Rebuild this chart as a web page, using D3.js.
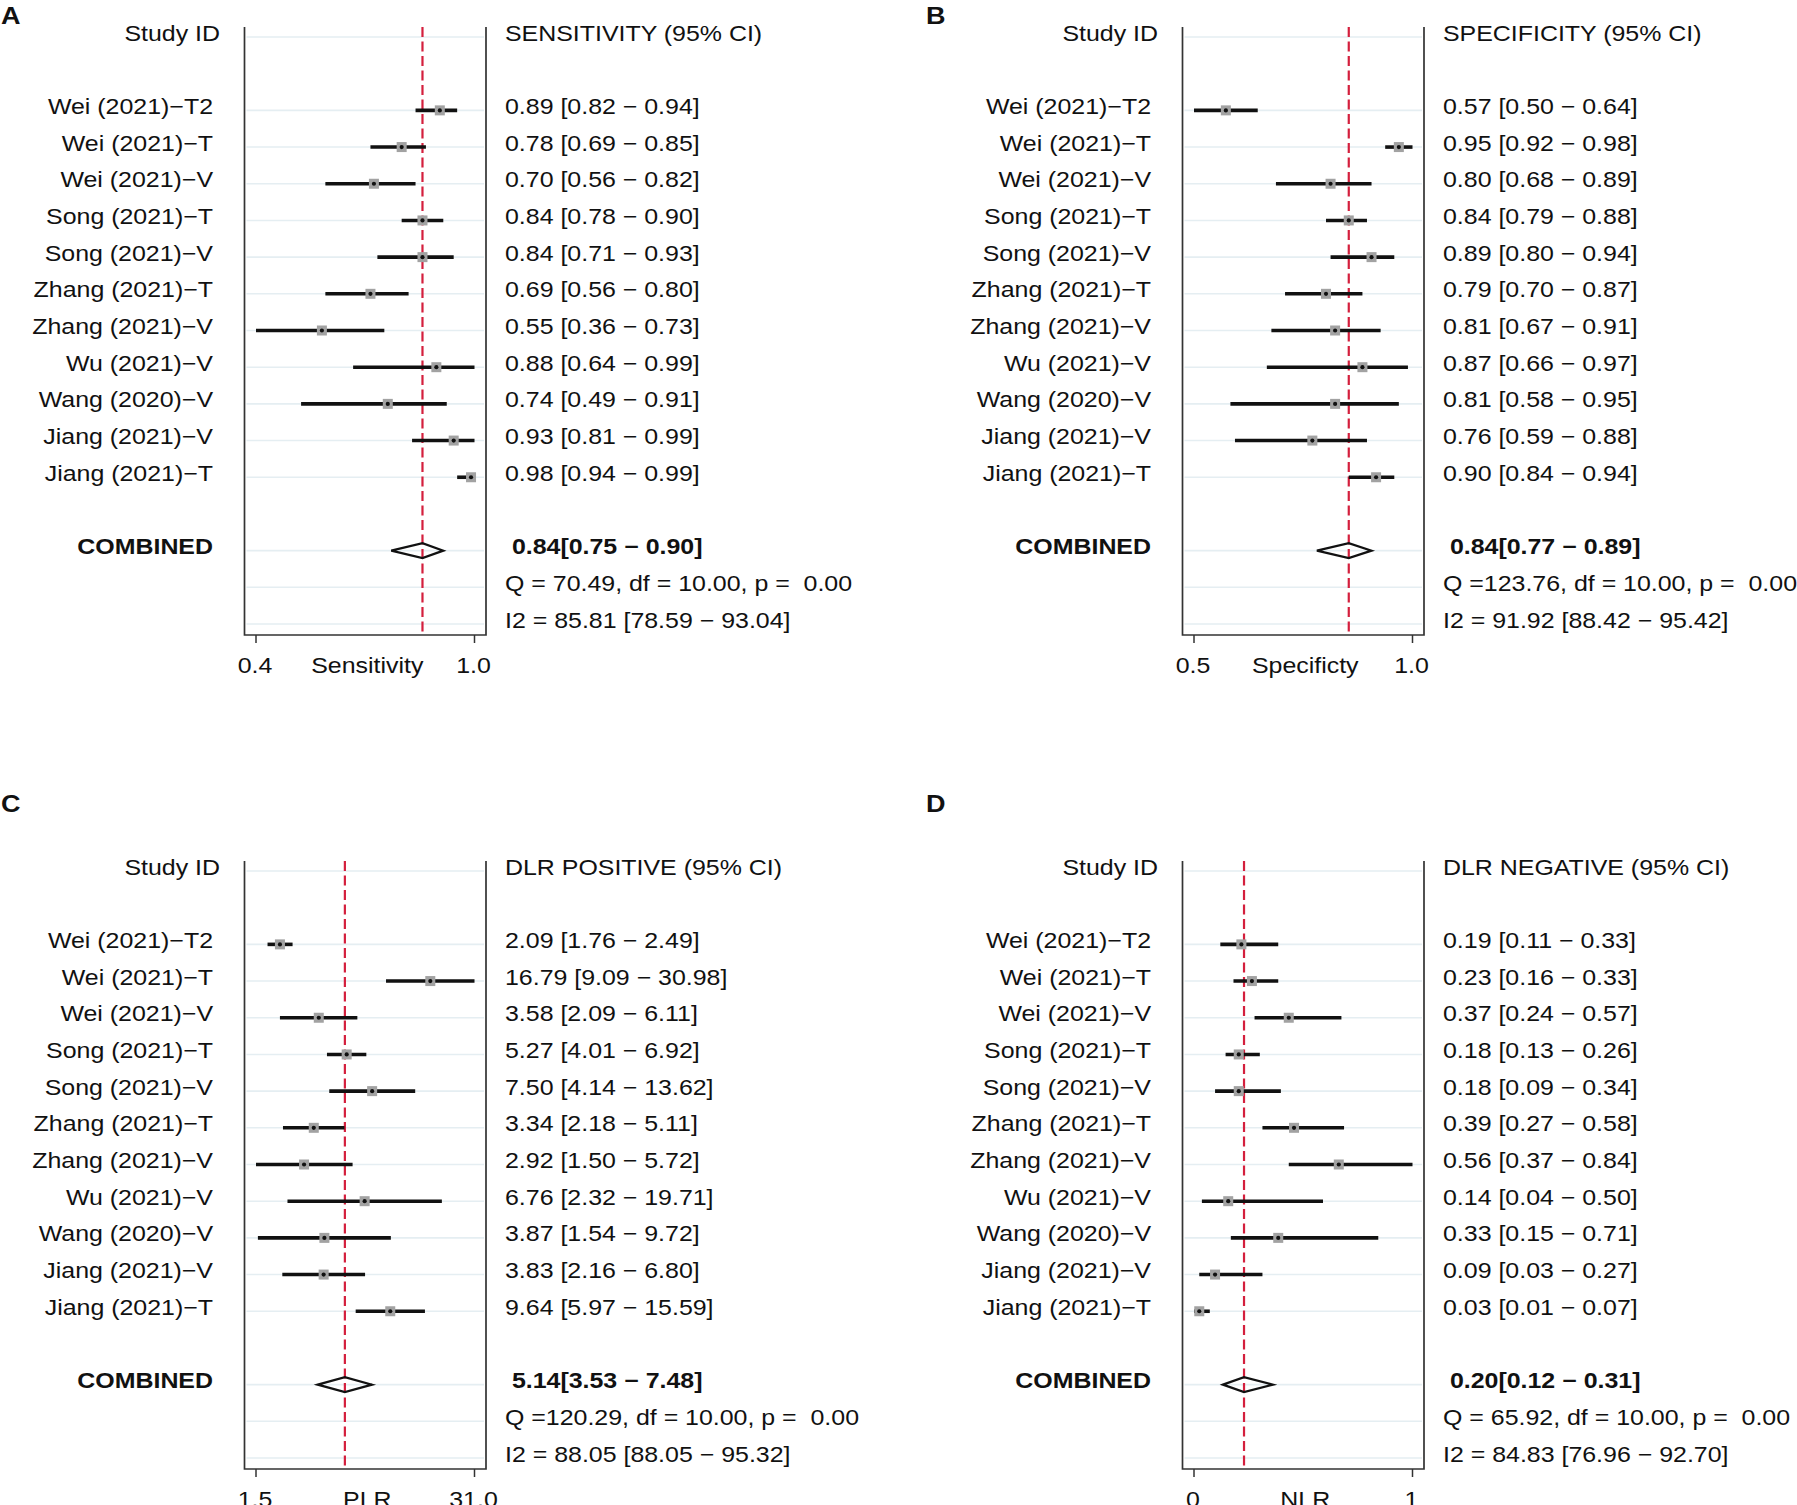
<!DOCTYPE html>
<html>
<head>
<meta charset="utf-8">
<script src="https://cdn.jsdelivr.net/npm/d3@7"></script>
<style>
  body { margin: 0; background: #fff; }
  text { font-family: 'Liberation Sans', Arial, sans-serif; fill: #111; white-space: pre; }
</style>
</head>
<body>
<div id="chart"></div>
<script>
// study labels (same order in every panel)
const studies = ['Wei (2021)\u2212T2', 'Wei (2021)\u2212T', 'Wei (2021)\u2212V', 'Song (2021)\u2212T', 'Song (2021)\u2212V',
  'Zhang (2021)\u2212T', 'Zhang (2021)\u2212V', 'Wu (2021)\u2212V', 'Wang (2020)\u2212V', 'Jiang (2021)\u2212V', 'Jiang (2021)\u2212T']

// A - sensitivity
const sensEst = [0.89, 0.78, 0.70, 0.84, 0.84, 0.69, 0.55, 0.88, 0.74, 0.93, 0.98]
const sensLo  = [0.82, 0.69, 0.56, 0.78, 0.71, 0.56, 0.36, 0.64, 0.49, 0.81, 0.94]
const sensHi  = [0.94, 0.85, 0.82, 0.90, 0.93, 0.80, 0.73, 0.99, 0.91, 0.99, 0.99]
const sensPooled = [0.84, 0.75, 0.90]
const sensStats = ['Q = 70.49, df = 10.00, p =  0.00', 'I2 = 85.81 [78.59 \u2212 93.04]']

// B - specificity
const specEst = [0.57, 0.95, 0.80, 0.84, 0.89, 0.79, 0.81, 0.87, 0.81, 0.76, 0.90]
const specLo  = [0.50, 0.92, 0.68, 0.79, 0.80, 0.70, 0.67, 0.66, 0.58, 0.59, 0.84]
const specHi  = [0.64, 0.98, 0.89, 0.88, 0.94, 0.87, 0.91, 0.97, 0.95, 0.88, 0.94]
const specPooled = [0.84, 0.77, 0.89]
const specStats = ['Q =123.76, df = 10.00, p =  0.00', 'I2 = 91.92 [88.42 \u2212 95.42]']

// C - positive likelihood ratio
const plrEst = [2.09, 16.79, 3.58, 5.27, 7.50, 3.34, 2.92, 6.76, 3.87, 3.83, 9.64]
const plrLo  = [1.76, 9.09, 2.09, 4.01, 4.14, 2.18, 1.50, 2.32, 1.54, 2.16, 5.97]
const plrHi  = [2.49, 30.98, 6.11, 6.92, 13.62, 5.11, 5.72, 19.71, 9.72, 6.80, 15.59]
const plrPooled = [5.14, 3.53, 7.48]
const plrStats = ['Q =120.29, df = 10.00, p =  0.00', 'I2 = 88.05 [88.05 \u2212 95.32]']

// D - negative likelihood ratio
const nlrEst = [0.19, 0.23, 0.37, 0.18, 0.18, 0.39, 0.56, 0.14, 0.33, 0.09, 0.03]
const nlrLo  = [0.11, 0.16, 0.24, 0.13, 0.09, 0.27, 0.37, 0.04, 0.15, 0.03, 0.01]
const nlrHi  = [0.33, 0.33, 0.57, 0.26, 0.34, 0.58, 0.84, 0.50, 0.71, 0.27, 0.07]
const nlrPooled = [0.20, 0.12, 0.31]
const nlrStats = ['Q = 65.92, df = 10.00, p =  0.00', 'I2 = 84.83 [76.96 \u2212 92.70]']

const panels = [
  { letter: 'A', header: 'SENSITIVITY (95% CI)', xTitle: 'Sensitivity', est: sensEst, lo: sensLo, hi: sensHi, pooled: sensPooled, stats: sensStats, log: false, fmt: '.1f' },
  { letter: 'B', header: 'SPECIFICITY (95% CI)', xTitle: 'Specificty', est: specEst, lo: specLo, hi: specHi, pooled: specPooled, stats: specStats, log: false, fmt: '.1f' },
  { letter: 'C', header: 'DLR POSITIVE (95% CI)', xTitle: 'PLR', est: plrEst, lo: plrLo, hi: plrHi, pooled: plrPooled, stats: plrStats, log: true, fmt: '.1f' },
  { letter: 'D', header: 'DLR NEGATIVE (95% CI)', xTitle: 'NLR', est: nlrEst, lo: nlrLo, hi: nlrHi, pooled: nlrPooled, stats: nlrStats, log: false, fmt: '.0f' }
]

const width = 1797
const height = 1505
const STRETCH = 1.16

const svg = d3.select('#chart')
  .append('svg')
  .attr('width', width)
  .attr('height', height)

svg.append('rect').attr('width', width).attr('height', height).attr('fill', '#fff')

const offsets = [[0, 0], [938, 0], [0, 834], [938, 834]]
const letterPos = [[1, 24], [926, 24], [1, 812], [926, 812]]

const plotLeft = 244.5
const plotRight = 486
const inset = 11.5
const axisTop = 27
const axisBottom = 635
const labelX = 213
const textX = 505

// rows: 0 header, 2..12 studies, 14 combined, 15 Q, 16 I2
const y = d3.scaleLinear().domain([0, 16]).range([37, 624])

const fmt2 = d3.format('.2f')

function label(g, x, yy, str, anchor, bold, size, stretch) {
  return g.append('text')
    .attr('transform', `translate(${x},${yy}) scale(${stretch || STRETCH},1)`)
    .attr('text-anchor', anchor || 'start')
    .attr('font-size', size || 21.5)
    .attr('font-weight', bold ? 'bold' : 'normal')
    .text(str)
}

panels.forEach((p, pi) => {
  const g = svg.append('g').attr('transform', `translate(${offsets[pi][0]},${offsets[pi][1]})`)
  const lp = letterPos[pi]
  label(svg, lp[0], lp[1], p.letter, 'start', true, 23.5, 1.15)

  const lo = d3.min(p.lo)
  const hi = d3.max(p.hi)
  const x = (p.log ? d3.scaleLog() : d3.scaleLinear())
    .domain([lo, hi])
    .range([plotLeft + inset, plotRight - inset])

  const rows = p.est.map((e, i) => ({ name: studies[i], est: e, lo: p.lo[i], hi: p.hi[i], row: i + 2 }))

  // gridlines
  const gridRows = [0].concat(rows.map(d => d.row), [14, 15, 16])
  g.selectAll('line.grid')
    .data(gridRows)
    .join('line')
    .attr('class', 'grid')
    .attr('x1', plotLeft + 2)
    .attr('x2', plotRight - 2)
    .attr('y1', d => y(d))
    .attr('y2', d => y(d))
    .attr('stroke', '#e5eef2')
    .attr('stroke-width', 1.6)

  // pooled reference line
  g.append('line')
    .attr('x1', x(p.pooled[0]))
    .attr('x2', x(p.pooled[0]))
    .attr('y1', axisTop)
    .attr('y2', axisBottom)
    .attr('stroke', '#d41f3d')
    .attr('stroke-width', 2.2)
    .attr('stroke-dasharray', '10,4.5')

  // confidence intervals
  g.selectAll('line.ci')
    .data(rows)
    .join('line')
    .attr('class', 'ci')
    .attr('x1', d => x(d.lo))
    .attr('x2', d => x(d.hi))
    .attr('y1', d => y(d.row))
    .attr('y2', d => y(d.row))
    .attr('stroke', '#111')
    .attr('stroke-width', 3.6)

  g.selectAll('rect.pt')
    .data(rows)
    .join('rect')
    .attr('class', 'pt')
    .attr('x', d => x(d.est) - 5)
    .attr('y', d => y(d.row) - 5)
    .attr('width', 10)
    .attr('height', 10)
    .attr('fill', '#a2a2a2')

  g.selectAll('circle.pt')
    .data(rows)
    .join('circle')
    .attr('class', 'pt')
    .attr('cx', d => x(d.est))
    .attr('cy', d => y(d.row))
    .attr('r', 2.1)
    .attr('fill', '#111')

  // pooled diamond
  const yc = y(14)
  g.append('path')
    .attr('d', `M${x(p.pooled[1])},${yc} L${x(p.pooled[0])},${yc - 7.5} L${x(p.pooled[2])},${yc} L${x(p.pooled[0])},${yc + 7.5} Z`)
    .attr('fill', 'none')
    .attr('stroke', '#111')
    .attr('stroke-width', 2.2)

  // frame: left, right, bottom
  const frame = 'M' + plotLeft + ',' + axisTop + ' V' + axisBottom + ' H' + plotRight + ' V' + axisTop
  g.append('path')
    .attr('d', frame)
    .attr('fill', 'none')
    .attr('stroke', '#333')
    .attr('stroke-width', 1.7)

  // ticks at the data extremes
  const tickFmt = d3.format(p.fmt)
  const ticks = [lo, hi]
  g.selectAll('line.tick')
    .data(ticks)
    .join('line')
    .attr('class', 'tick')
    .attr('x1', d => x(d))
    .attr('x2', d => x(d))
    .attr('y1', axisBottom)
    .attr('y2', axisBottom + 8)
    .attr('stroke', '#333')
    .attr('stroke-width', 1.5)
  ticks.forEach(t => label(g, x(t) - 1, 673, tickFmt(t), 'middle'))
  label(g, (plotLeft + plotRight) / 2 + 2, 673, p.xTitle, 'middle')

  // left column
  label(g, 220, y(0) + 4, 'Study ID', 'end')
  rows.forEach(d => label(g, labelX, y(d.row) + 3.5, d.name, 'end'))
  label(g, labelX, y(14) + 3.5, 'COMBINED', 'end', true)

  // right column
  label(g, textX, y(0) + 4, p.header, 'start')
  rows.forEach(d => label(g, textX, y(d.row) + 3.5, `${fmt2(d.est)} [${fmt2(d.lo)} \u2212 ${fmt2(d.hi)}]`, 'start'))
  label(g, textX, y(14) + 3.5, ` ${fmt2(p.pooled[0])}[${fmt2(p.pooled[1])} \u2212 ${fmt2(p.pooled[2])}]`, 'start', true)
  label(g, textX, y(15) + 3.5, p.stats[0], 'start')
  label(g, textX, y(16) + 3.5, p.stats[1], 'start')
})
</script>
</body>
</html>
